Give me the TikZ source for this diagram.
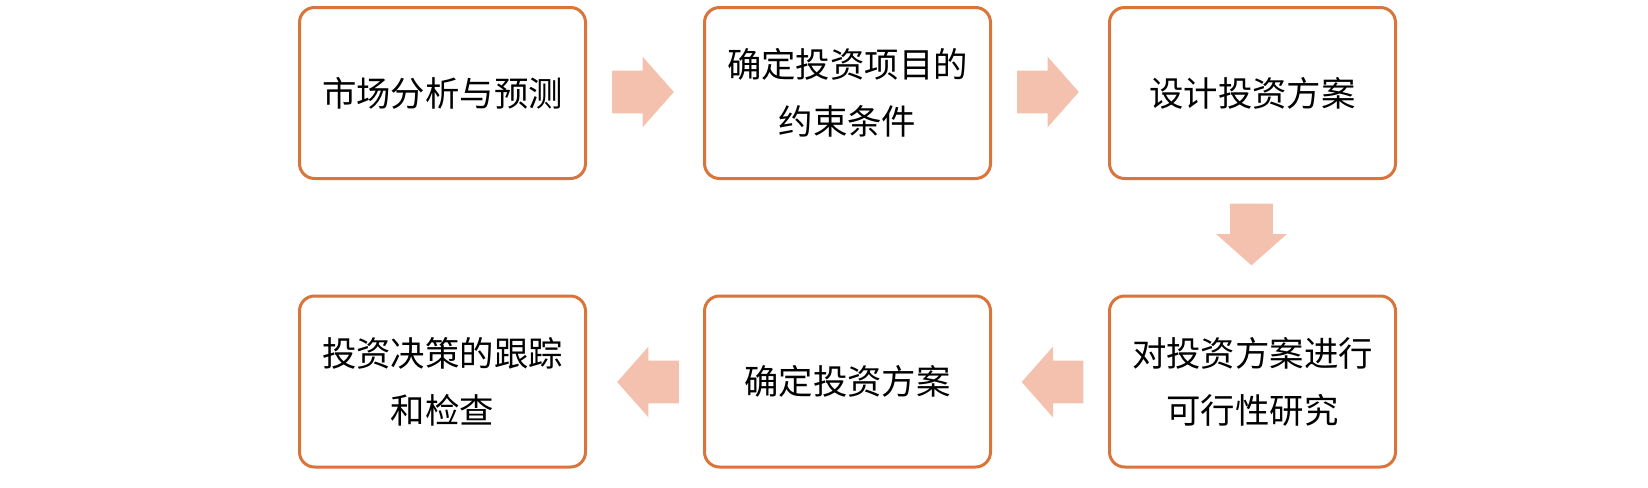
\documentclass[tikz,border=0pt]{standalone}
\usepackage{fontspec}
\setmainfont{Noto Sans CJK SC}
\usetikzlibrary{shapes.arrows}
\definecolor{boxline}{HTML}{D9743A}
\definecolor{arrowfill}{HTML}{F4C1AE}
\begin{document}
\begin{tikzpicture}[x=0.5pt,y=-0.5pt,
  stagebox/.style={draw=boxline, line width=1.5pt, rounded corners=7.5pt, fill=white,
    minimum width=143pt, minimum height=85.5pt, align=center, inner sep=0pt,
    font=\fontsize{17.2}{28.5}\selectfont},
  blockarrow/.style={single arrow, fill=arrowfill, draw=none, inner sep=10.5pt,
    minimum height=30.5pt, single arrow head extend=7pt, single arrow tip angle=97},
]
\useasboundingbox (0,0) rectangle (1648,487);
\node[stagebox] (b1) at (442.5,93) {市场分析与预测};
\node[stagebox] (b2) at (847.5,93) {确定投资项目的\\约束条件};
\node[stagebox] (b3) at (1252.5,93) {设计投资方案};
\node[stagebox] (b4) at (1252.5,381.5) {对投资方案进行\\可行性研究};
\node[stagebox] (b5) at (847.5,381.5) {确定投资方案};
\node[stagebox] (b6) at (442.5,381.5) {投资决策的跟踪\\和检查};
\node[blockarrow, shape border rotate=0] (a1) at (633.5,92) {};
\node[blockarrow, shape border rotate=0] (a2) at (1038.5,92) {};
\node[blockarrow, shape border rotate=270] (a3) at (1251.5,225) {};
\node[blockarrow, shape border rotate=180] (a4) at (1062,382) {};
\node[blockarrow, shape border rotate=180] (a5) at (657.5,382) {};
\end{tikzpicture}
\end{document}
